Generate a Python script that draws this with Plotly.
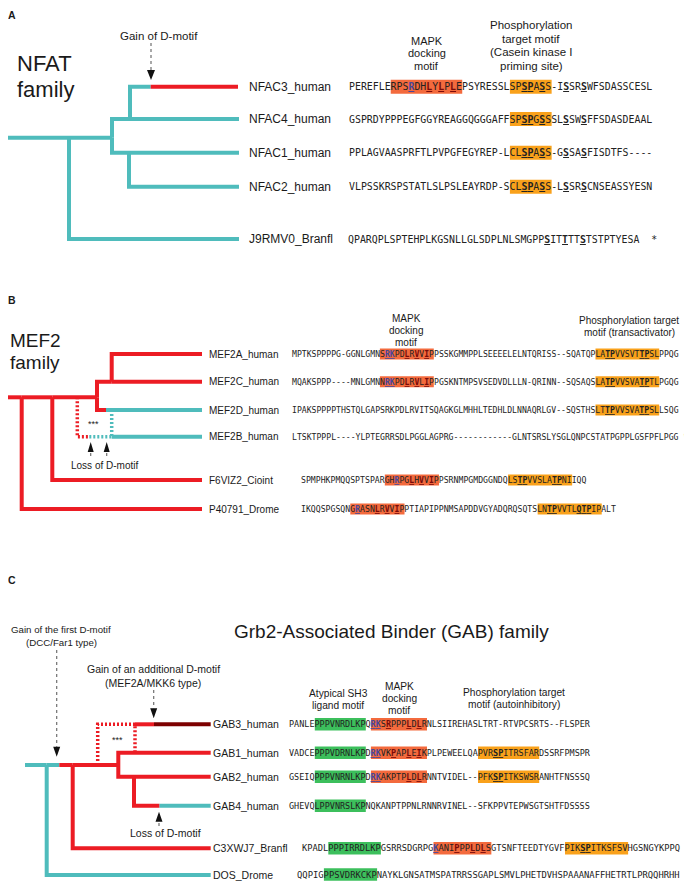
import plotly.graph_objects as go

# ------------------------------------------------------------------ colours / fonts
TEAL = "#4fbcbc"
RED = "#ec1c24"
DARKRED = "#7d0000"
MAPK_BG = "#f36a3d"
PHOS_BG = "#f9a11b"
SH3_BG = "#3cbf5c"
BLUE_RES = "#46469c"
RED_RES = "#7a0a0a"
TXT = "#1a1a1a"
SANS = "Liberation Sans, Arial, sans-serif"
MONO = "DejaVu Sans Mono, monospace"

# ------------------------------------------------------------------ data: panel A (NFAT)
A_leaves = ["NFAC3_human", "NFAC4_human", "NFAC1_human", "NFAC2_human", "J9RMV0_Branfl"]
A_seqs = [
    "PEREFLERPSRDHLYLPLEPSYRESSLSPSPASS-ISSRSWFSDASSCESL",
    "GSPRDYPPPEGFGGYREAGGQGGGAFFSPSPGSSSLSSWSFFSDASDEAAL",
    "PPLAGVAASPRFTLPVPGFEGYREP-LCLSPASS-GSSASFISDTFS----",
    "VLPSSKRSPSTATLSLPSLEAYRDP-SCLSPASS-LSSRSCNSEASSYESN",
    "QPARQPLSPTEHPLKGSNLLGLSDPLNLSMGPPSITTTTSTSTPTYESA\u00a0\u00a0*",
]
A_sh3 = [None] * 5
A_mapk = [(7, 12), None, None, None, None]
A_phos = [(27, 7), (27, 7), (27, 7), (27, 7), None]
A_ub = [[10], [], [], [], []]
A_ur = [[13, 15, 17], [], [], [], []]
A_uk = [[29, 30, 32, 36, 39], [29, 30, 32, 36, 39], [29, 30, 32, 36, 39],
        [29, 30, 32, 36, 39], [33, 36, 39]]
# tree: (node, parent, x, y, colour); colour switches along a branch
A_tree = [
    ("s", None, 6, 137.7, TEAL),
    ("r", "s", 69, 137.7, TEAL),
    ("n1", "r", 112, 137.7, TEAL),
    ("n2", "n1", 130, 119, TEAL),
    ("n3", "n1", 129, 152.7, TEAL),
    ("NFAC3_human", "n2", 238, 86.7, TEAL),
    ("NFAC4_human", "n2", 239, 119, TEAL),
    ("NFAC1_human", "n3", 239, 152.7, TEAL),
    ("NFAC2_human", "n3", 239, 186.7, TEAL),
    ("J9RMV0_Branfl", "r", 239, 239, TEAL),
]
A_switch = {"NFAC3_human": (150.7, RED)}
A_dotted = []

# ------------------------------------------------------------------ data: panel B (MEF2)
B_leaves = ["MEF2A_human", "MEF2C_human", "MEF2D_human", "MEF2B_human",
            "F6VIZ2_Cioint", "P40791_Drome"]
B_seqs = [
    "MPTKSPPPPG-GGNLGMNSRKPDLRVVIPPSSKGMMPPLSEEEELELNTQRISS--SQATQPLATPVVSVTTPSLPPQG",
    "MQAKSPPP----MNLGMNNRKPDLRVLIPPGSKNTMPSVSEDVDLLLN-QRINN--SQSAQSLATPVVSVATPTLPGQG",
    "IPAKSPPPPTHSTQLGAPSRKPDLRVITSQAGKGLMHHLTEDHLDLNNAQRLGV--SQSTHSLTTPVVSVATPSLLSQG",
    "LTSKTPPPL----YLPTEGRRSDLPGGLAGPRG------------GLNTSRSLYSGLQNPCSTATPGPPLGSFPFLPGG\u00a0**",
    "SPMPHKPMQQSPTSPARGHRPGLHVVIPPSRNMPGMDGGNDQLSTPVVSLATPNIIQQ",
    "IKQQSPGSQNGRASNLRVVIPPTIAPIPPNMSAPDDVGYADQRQSQTSLNTPVVTLQTPIPALT",
]
B_sh3 = [None] * 6
B_mapk = [(18, 11), (18, 11), None, None, (17, 11), (10, 11)]
B_phos = [(62, 13), (62, 13), (62, 13), None, (42, 13), (48, 13)]
B_ub = [[19, 20], [19, 20], [], [], [19], [11]]
B_ur = [[23, 25, 27], [23, 25, 27], [], [], [22, 24, 26], [15, 17, 19]]
B_uk = [[64, 65, 71, 72], [64, 65, 71, 72], [64, 65, 71, 72], [],
        [44, 45, 51, 52], [50, 51, 56, 57, 58]]
B_tree = [
    ("s", None, 7, 397.3, RED),
    ("r", "s", 21.7, 397.3, RED),
    ("n1", "r", 52.3, 397.3, RED),
    ("n2", "n1", 97, 397.3, RED),
    ("n3", "n2", 111.7, 381.7, RED),
    ("MEF2A_human", "n3", 202, 354, RED),
    ("MEF2C_human", "n3", 202, 381.7, RED),
    ("MEF2D_human", "n2", 202, 410, RED),
    ("F6VIZ2_Cioint", "n1", 202, 480, RED),
    ("P40791_Drome", "r", 202, 509, RED),
]
B_switch = {"MEF2D_human": (106, TEAL)}
B_extra = [(TEAL, [111.7, 202], [436.7, 436.7])]          # MEF2B terminal branch
B_dotted = [
    (RED, [77.3, 77.3, 89.3], [397.3, 436.7, 436.7]),
    (TEAL, [89.3, 111.7], [436.7, 436.7]),
    (TEAL, [111.7, 111.7], [410, 436.7]),
]

# ------------------------------------------------------------------ data: panel C (GAB)
C_leaves = ["GAB3_human", "GAB1_human", "GAB2_human", "GAB4_human",
            "C3XWJ7_Branfl", "DOS_Drome"]
C_seqs = [
    "PANLEPPPVNRDLKPQRKSRPPPLDLRNLSIIREHASLTRT-RTVPCSRTS--FLSPER",
    "VADCEPPPVDRNLKPDRKVKPAPLEIKPLPEWEELQAPVRSPITRSFARDSSRFPMSPR",
    "GSEIQPPPVNRNLKPDRKAKPTPLDLRNNTVIDEL--PFKSPITKSWSRANHTFNSSSQ",
    "GHEVQLPPVNRSLKPNQKANPTPPNLRNNRVINEL--SFKPPVTEPWSGTSHTFDSSSS",
    "KPADLPPPIRRDLKPGSRRSDGRPGKANIPPPLDLSGTSNFTEEDTYGVFPIKSPITKSFSVHGSNGYKPPQ",
    "QQPIGPPSVDRKCKPNAYKLGNSATMSPATRRSSGAPLSMVLPHETDVHSPAAANAFFHETRTLPRQQHRHH",
]
C_sh3 = [(5, 10)] * 6
C_mapk = [(16, 11), (16, 11), (16, 11), None, (25, 11), None]
C_phos = [None, (37, 12), (37, 12), None, (50, 12), None]
C_ub = [[16, 17], [16, 17], [16, 17], [], [25], []]
C_ur = [[19, 23, 25], [20, 23, 25], [23, 25], [], [29, 32, 34], []]
C_uk = [[], [40, 41], [40, 41], [], [53, 54], []]
C_tree = [
    ("s", None, 25, 765, TEAL),
    ("r", "s", 46.7, 765, TEAL),
    ("g1", "r", 72.7, 765, TEAL),
    ("g2", "g1", 118.3, 765, RED),
    ("g3", "g2", 134, 776.7, RED),
    ("GAB1_human", "g2", 210.7, 752.7, RED),
    ("GAB2_human", "g3", 210.7, 776.7, RED),
    ("GAB4_human", "g3", 210.7, 805.7, RED),
    ("C3XWJ7_Branfl", "g1", 210.7, 848.3, RED),
    ("DOS_Drome", "r", 210.7, 875, TEAL),
]
C_switch = {"g1": (59.3, RED), "GAB4_human": (159.3, TEAL)}
C_extra = [(RED, [135, 154], [724.3, 724.3]), (DARKRED, [154, 210.7], [724.3, 724.3])]
C_dotted = [(RED, [97.7, 97.7, 135, 135], [765, 724.3, 724.3, 752.7])]

# ------------------------------------------------------------------ layout constants per panel
PANELS = [
    dict(leaves=A_leaves, seqs=A_seqs, sh3=A_sh3, mapk=A_mapk, phos=A_phos,
         ub=A_ub, ur=A_ur, uk=A_uk, tree=A_tree, switch=A_switch, extra=[],
         dotted=A_dotted, rows=[86.7, 119, 152.7, 186.7, 239],
         seq_x=[349, 349, 349, 349, 348], cw=[5.96] * 5, box_h=14,
         label_x=249, label_size=12),
    dict(leaves=B_leaves, seqs=B_seqs, sh3=B_sh3, mapk=B_mapk, phos=B_phos,
         ub=B_ub, ur=B_ur, uk=B_uk, tree=B_tree, switch=B_switch, extra=B_extra,
         dotted=B_dotted, rows=[354, 381.7, 410, 436.7, 480, 509],
         seq_x=[291.7, 291.7, 291.7, 291.7, 301, 301], cw=[4.9] * 4 + [4.93] * 2,
         box_h=11, label_x=209.3, label_size=10),
    dict(leaves=C_leaves, seqs=C_seqs, sh3=C_sh3, mapk=C_mapk, phos=C_phos,
         ub=C_ub, ur=C_ur, uk=C_uk, tree=C_tree, switch=C_switch, extra=C_extra,
         dotted=C_dotted, rows=[724.3, 752.7, 776.7, 805.7, 848.3, 874.5],
         seq_x=[289.3] * 4 + [302, 297.3], cw=[5.1] * 4 + [5.26, 5.32],
         box_h=12.5, label_x=212.7, label_size=10.5),
]

# headers: (text lines, centre x, line y's, size)
HEADERS = [
    (["MAPK", "docking", "motif"], 426.5, [40.5, 53, 65.5], 11),
    (["Phosphorylation", "target motif", "(Casein kinase I", "priming site)"], 531,
     [25, 38.5, 52, 65.5], 11.5),
    (["MAPK", "docking", "motif"], 406, [318, 330, 342], 10),
    (["Phosphorylation target", "motif (transactivator)"], 629, [320.5, 332.5], 10),
    (["Atypical SH3", "ligand motif"], 338.3, [693.5, 705.5], 10.2),
    (["MAPK", "docking", "motif"], 399.3, [686, 698.3, 710.6], 10.2),
    (["Phosphorylation target", "motif (autoinhibitory)"], 514, [692, 704], 10.2),
]
# event arrows: (x, tail y, tip y, half width, head length)
ARROWS = [
    (151, 43, 80, 4, 10),
    (90.7, 456, 442, 3, 10),
    (106.7, 456, 442, 3, 10),
    (56.7, 650, 756.7, 3.5, 10),
    (153.7, 690, 718.3, 3.5, 10),
    (159, 826, 811.7, 3.5, 10),
]
EVENT_TEXT = [
    (["Gain of D-motif"], 159, [36], 11.5),
    (["Loss of D-motif"], 104, [465.5], 10),
    (["Gain of the first D-motif", "(DCC/Far1 type)"], 61, [629, 642], 9.7),
    (["Gain of an additional D-motif", "(MEF2A/MKK6 type)"], 153.3, [669.3, 682.7], 10.5),
    (["Loss of D-motif"], 165.7, [832.7], 10.5),
]
STARS = [(93, 423.5), (117.3, 740)]
FAMILY = [
    (["NFAT", "family"], 17, [63.5, 89.5], 22),
    (["MEF2", "family"], 10, [340, 362.5], 19),
]
PANEL_LETTERS = [("A", 8.2, 14.5), ("B", 8.2, 299.7), ("C", 8.2, 580)]
GAB_TITLE = ("Grb2-Associated Binder (GAB) family", 391, 631, 19)

# the page body adds an 8px margin: the figure covers window pixels 8..692 / 8..882
PAGE_OFFSET = 8
WIN_W, WIN_H = 692, 882

# ------------------------------------------------------------------ build
fig = go.Figure()
annotations = []
shapes = []


def add_text(x, y, text, size, family=SANS, xanchor="center", color=TXT):
    annotations.append(dict(x=x, y=y, xref="x", yref="y", text=text, showarrow=False,
                            xanchor=xanchor, yanchor="middle", borderpad=0, borderwidth=0,
                            font=dict(family=family, size=size, color=color)))


def seq_html(seq, ub, ur, uk):
    out = []
    for i, ch in enumerate(seq):
        if i in ub:
            out.append(f'<span style="text-decoration:underline;font-weight:bold;color:{BLUE_RES}">{ch}</span>')
        elif i in ur:
            out.append(f'<span style="text-decoration:underline;font-weight:bold;color:{RED_RES}">{ch}</span>')
        elif i in uk:
            out.append(f'<span style="text-decoration:underline;font-weight:bold">{ch}</span>')
        else:
            out.append(ch)
    return "".join(out)


line_groups = {}   # (colour, dash, width) -> (xs, ys)


def add_line(color, xs, ys, dash="solid", width=4):
    key = (color, dash, width)
    gx, gy = line_groups.setdefault(key, ([], []))
    gx.extend(list(xs) + [None])
    gy.extend(list(ys) + [None])


for P in PANELS:
    pos = {n: (x, y) for n, p, x, y, c in P["tree"]}
    for n, p, x, y, c in P["tree"]:
        if p is None:
            continue
        px, py = pos[p]
        if n in P["switch"]:
            sx, c2 = P["switch"][n]
            add_line(c, [px, px, sx], [py, y, y])
            add_line(c2, [sx, x], [y, y])
        else:
            add_line(c, [px, px, x], [py, y, y])
    for c, xs, ys in P["extra"]:
        add_line(c, xs, ys)
    for c, xs, ys in P["dotted"]:
        add_line(c, xs, ys, dash="2px,2px", width=3.5)

    for i, name in enumerate(P["leaves"]):
        y = P["rows"][i]
        add_text(P["label_x"], y, name, P["label_size"], xanchor="left")
        x0, cw = P["seq_x"][i], P["cw"][i]
        for motif, col in ((P["sh3"][i], SH3_BG), (P["mapk"][i], MAPK_BG), (P["phos"][i], PHOS_BG)):
            if motif is None:
                continue
            st, ln = motif
            shapes.append(dict(type="rect", xref="x", yref="y", layer="below",
                               x0=x0 + st * cw, x1=x0 + (st + ln) * cw,
                               y0=y - P["box_h"] / 2, y1=y + P["box_h"] / 2,
                               fillcolor=col, line=dict(width=0)))
        add_text(x0, y, seq_html(P["seqs"][i], P["ub"][i], P["ur"][i], P["uk"][i]),
                 cw / 0.60205, family=MONO, xanchor="left", color="#222222")

for key, (xs, ys) in line_groups.items():
    color, dash, width = key
    fig.add_trace(go.Scatter(x=xs, y=ys, mode="lines", hoverinfo="skip",
                             line=dict(color=color, width=width, dash=dash)))

# arrows: dashed stem + filled head
tri_x, tri_y = [], []
for x, yt, ytip, hw, hl in ARROWS:
    sgn = 1 if ytip > yt else -1
    base = ytip - sgn * hl
    fig.add_trace(go.Scatter(x=[x, x], y=[yt, base], mode="lines", hoverinfo="skip",
                             line=dict(color="#6f6f6f", width=1.2, dash="3px,3px")))
    tri_x += [x - hw, x + hw, x, x - hw, None]
    tri_y += [base, base, ytip, base, None]
fig.add_trace(go.Scatter(x=tri_x, y=tri_y, mode="lines", fill="toself", fillcolor="#111111",
                         line=dict(width=0, color="#111111"), hoverinfo="skip"))

for lines, cx, ys, size in HEADERS + EVENT_TEXT:
    for t, yy in zip(lines, ys):
        add_text(cx, yy, t, size)
for x, y in STARS:
    add_text(x, y, "***", 9)
for lines, lx, ys, size in FAMILY:
    for t, yy in zip(lines, ys):
        add_text(lx, yy, t, size, xanchor="left")
for t, x, y in PANEL_LETTERS:
    add_text(x, y, f"<b>{t}</b>", 10.5, xanchor="left")
add_text(GAB_TITLE[1], GAB_TITLE[2], GAB_TITLE[0], GAB_TITLE[3])

fig.update_layout(
    width=WIN_W - PAGE_OFFSET, height=WIN_H - PAGE_OFFSET,
    margin=dict(l=0, r=0, t=0, b=0),
    paper_bgcolor="white", plot_bgcolor="white", showlegend=False,
    xaxis=dict(range=[PAGE_OFFSET, WIN_W], visible=False, fixedrange=True),
    yaxis=dict(range=[WIN_H, PAGE_OFFSET], visible=False, fixedrange=True),
    annotations=annotations, shapes=shapes, hovermode=False,
)
fig.write_html("out.html")
